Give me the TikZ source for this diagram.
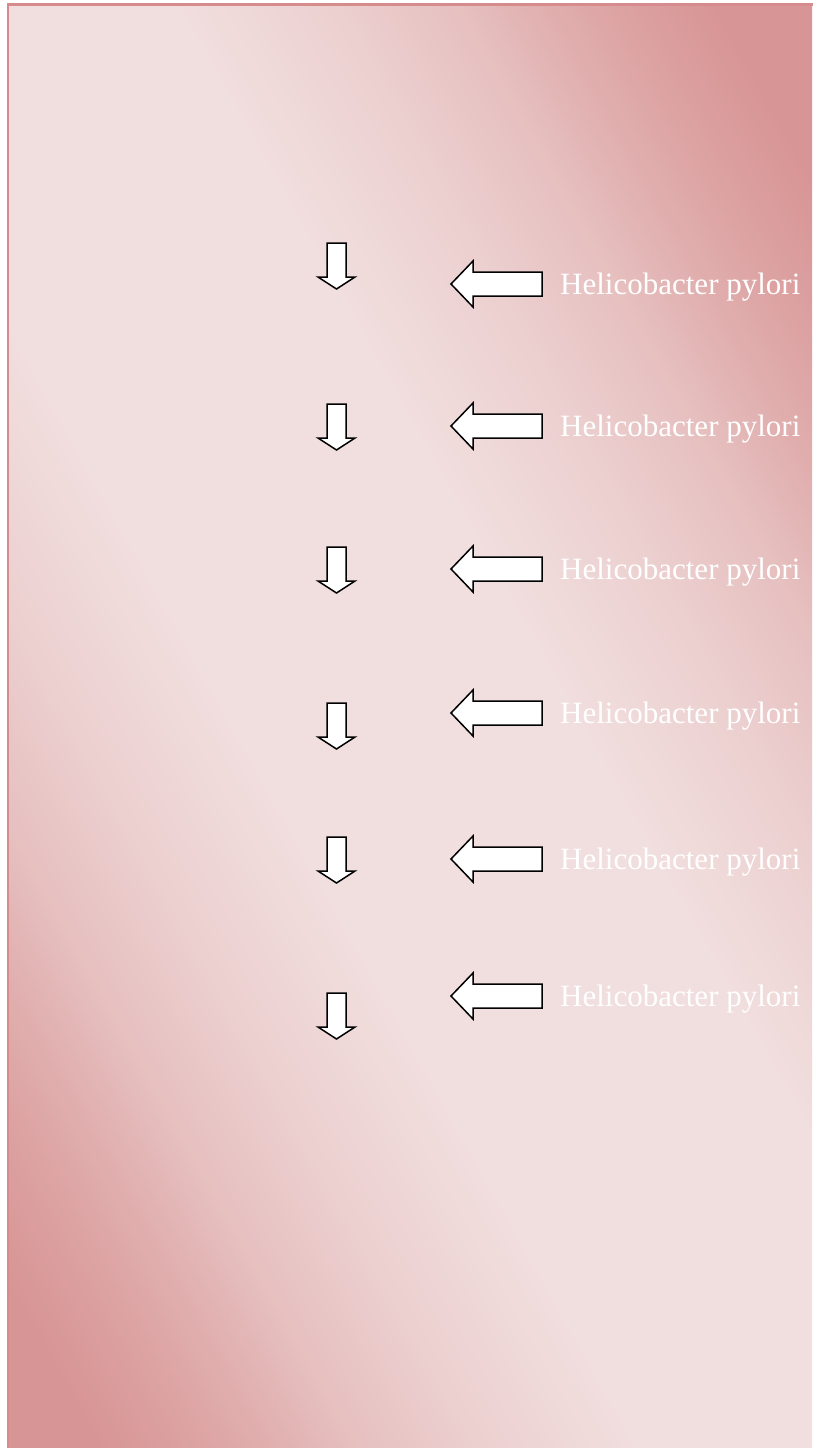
\documentclass[tikz,border=0pt]{standalone}
\usepackage{fontspec}
\setmainfont{Liberation Serif}
\definecolor{darkpink}{RGB}{216,149,149}
\definecolor{lightpink}{RGB}{241,222,222}
\definecolor{edgepink}{RGB}{214,140,140}
\colorlet{pinkA}{darkpink!18!lightpink}
\colorlet{pinkB}{darkpink!42!lightpink}
\colorlet{pinkC}{darkpink!65!lightpink}
\colorlet{pinkD}{darkpink!85!lightpink}
% colour profile across the diagonal band (path occupies 25bp..75bp)
\pgfdeclareverticalshading{pinkband}{100bp}{%
  color(0bp)=(darkpink); color(29.3bp)=(darkpink);
  color(31.7bp)=(pinkD); color(34.3bp)=(pinkC);
  color(36.7bp)=(pinkB); color(40.7bp)=(pinkA);
  color(45bp)=(lightpink); color(55bp)=(lightpink);
  color(59.3bp)=(pinkA); color(63.3bp)=(pinkB);
  color(65.7bp)=(pinkC); color(68.3bp)=(pinkD);
  color(70.7bp)=(darkpink); color(100bp)=(darkpink)}
\tikzset{
  blockarrow/.style={draw=black, fill=white, line width=1.5pt, line join=miter},
  label/.style={text=white, font=\fontsize{31}{36}\selectfont, inner sep=0pt, anchor=base west}
}
\begin{document}
\begin{tikzpicture}[x=1pt,y=-1pt]
\useasboundingbox (0,0) rectangle (812,1448);
\fill[white] (0,0) rectangle (812,1448);
% page background: light band along the main diagonal, darker corners
\begin{scope}
  \clip (8,4.5) rectangle (812,1448);
  \begin{scope}[transform canvas={shift={(406,724)}, rotate=-60.7}]
    \shade[shading=pinkband] (-1000,-750) rectangle (1000,750);
  \end{scope}
\end{scope}
\draw[edgepink, line width=2.5pt] (8,1460) -- (8,4.5) -- (830,4.5);
% rows: top of the small down arrow / centre of the left arrow
\foreach \dt/\lc [count=\i] in {243/284, 404/426, 547/569, 703/713, 837/859, 993/996}{
  % small down arrow
  \coordinate (down\i) at (336.5,\dt);
  \draw[blockarrow] (327,\dt) -- (346,\dt) -- (346,\dt+34) -- (355,\dt+34)
    -- (336.5,\dt+46) -- (318,\dt+34) -- (327,\dt+34) -- cycle;
  % left-pointing block arrow
  \coordinate (left\i) at (451,\lc);
  \draw[blockarrow] (451,\lc) -- (473,\lc-23) -- (473,\lc-12) -- (542,\lc-12)
    -- (542,\lc+12) -- (473,\lc+12) -- (473,\lc+23) -- cycle;
  \node[label] (lab\i) at (560,\lc+10) {Helicobacter pylori};
}
\end{tikzpicture}
\end{document}
